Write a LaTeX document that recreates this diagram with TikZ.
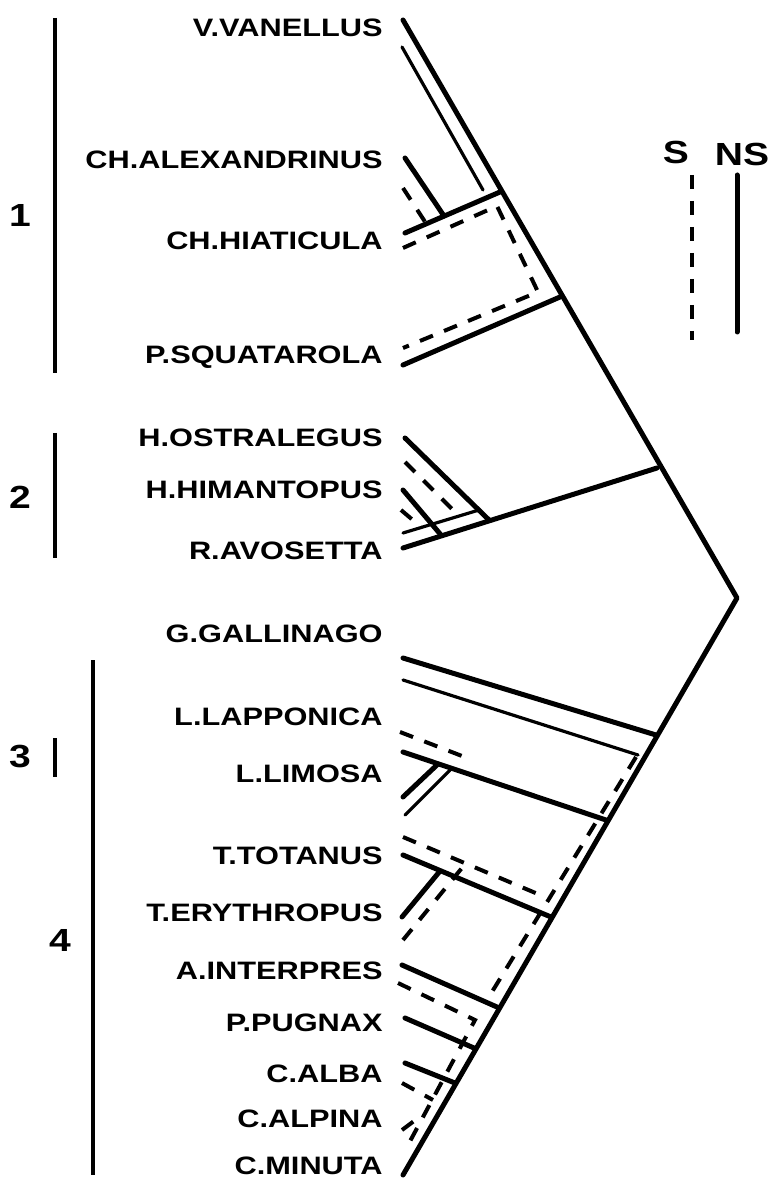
\documentclass[tikz,border=0pt]{standalone}
\usepackage{fontspec}
\setmainfont{Liberation Sans}[FakeStretch=1.22]
\usetikzlibrary{positioning}
\tikzset{
  taxon/.style={anchor=base east, inner sep=0pt, font=\fontsize{12.6}{14}\selectfont\bfseries},
  grpnum/.style={inner sep=0pt, font=\fontsize{16}{18}\selectfont\bfseries},
  nsline/.style={line width=2.5pt, line cap=round, line join=round},
  nsthin/.style={line width=1.6pt, line cap=round},
  sline/.style={line width=2pt, dash pattern=on 7pt off 6pt},
  grpbar/.style={line width=1.8pt}
}

\begin{document}
\begin{tikzpicture}[x=0.5pt,y=-0.5pt]
\useasboundingbox (0,0) rectangle (775,1186);

\node[taxon] (van) at (383,37) {V.VANELLUS};
\node[taxon] (alex) at (383,169) {CH.ALEXANDRINUS};
\node[taxon] (hia) at (383,250) {CH.HIATICULA};
\node[taxon] (squ) at (383,364) {P.SQUATAROLA};
\node[taxon] (ost) at (383,447) {H.OSTRALEGUS};
\node[taxon] (him) at (383,498) {H.HIMANTOPUS};
\node[taxon] (avo) at (383,559) {R.AVOSETTA};
\node[taxon] (gal) at (383,642) {G.GALLINAGO};
\node[taxon] (lap) at (383,725) {L.LAPPONICA};
\node[taxon] (lim) at (383,782) {L.LIMOSA};
\node[taxon] (tot) at (383,864) {T.TOTANUS};
\node[taxon] (ery) at (383,921) {T.ERYTHROPUS};
\node[taxon] (int) at (383,979) {A.INTERPRES};
\node[taxon] (pug) at (383,1031) {P.PUGNAX};
\node[taxon] (alb) at (383,1082) {C.ALBA};
\node[taxon] (alp) at (383,1127) {C.ALPINA};
\node[taxon] (min) at (383,1174) {C.MINUTA};

\node[grpnum] (g1) at (20,215) {1};
\node[grpnum] (g2) at (20,497) {2};
\node[grpnum] (g3) at (20,757) {3};
\node[grpnum] (g4) at (60,940) {4};
\coordinate (b1a) at (55,18);  \coordinate (b1b) at (55,373);
\coordinate (b2a) at (55,433); \coordinate (b2b) at (55,558);
\coordinate (b3a) at (55,738); \coordinate (b3b) at (55,777);
\coordinate (b4a) at (93,660); \coordinate (b4b) at (93,1175);
\draw[grpbar] (b1a) -- (b1b);
\draw[grpbar] (b2a) -- (b2b);
\draw[grpbar] (b3a) -- (b3b);
\draw[grpbar] (b4a) -- (b4b);

\node[grpnum] (keys) at (676,152) {S};
\node[grpnum] (keyns) at (742,154) {NS};
\coordinate (ks1) at (692,175); \coordinate (ks2) at (692,340);
\coordinate (kn1) at (737,175); \coordinate (kn2) at (737,332);
\draw[sline] (ks1) -- (ks2);
\draw[nsline] (kn1) -- (kn2);

\coordinate (top) at (403,20);
\coordinate (apex) at (737,598);
\coordinate (bot) at (403,1175);
\draw[nsline] (top) -- (apex) -- (bot);

\coordinate (j1) at (500,192);
\coordinate (j2) at (560,297);
\coordinate (j3) at (657,468);
\coordinate (j4) at (656,735);
\coordinate (j5) at (606,820);
\coordinate (j6) at (551,917);
\coordinate (j7) at (497,1007);
\coordinate (j8) at (474,1048);
\coordinate (j9) at (455,1083);

\coordinate (vt1) at (402,47);  \coordinate (vt2) at (483,190);
\draw[nsthin] (vt1) -- (vt2);
\coordinate (a1) at (405,158);  \coordinate (a2) at (444,216);
\draw[nsline] (a1) -- (a2);
\coordinate (h1) at (405,233);
\draw[nsline] (h1) -- (j1);
\coordinate (as1) at (403,188); \coordinate (as2) at (431,231);
\draw[sline] (as1) -- (as2);
\coordinate (hs1) at (403,248); \coordinate (hs2) at (497,206);
\coordinate (hs3) at (538,292); \coordinate (ss1) at (403,348);
\draw[sline] (hs1) -- (hs2) -- (hs3) -- (ss1);
\coordinate (s1) at (403,365);
\draw[nsline] (s1) -- (j2);

\coordinate (o1) at (405,438);  \coordinate (o2) at (489,520);
\draw[nsline] (o1) -- (o2);
\coordinate (r1) at (403,548);
\draw[nsline] (r1) -- (j3);
\coordinate (rt1) at (403,533); \coordinate (rt2) at (479,510);
\draw[nsthin] (rt1) -- (rt2);
\coordinate (hm1) at (403,490); \coordinate (hm2) at (441,535);
\draw[nsline] (hm1) -- (hm2);
\coordinate (os1) at (405,462); \coordinate (os2) at (458,515);
\draw[sline] (os1) -- (os2);
\coordinate (hms1) at (401,510); \coordinate (hms2) at (421,527);
\draw[sline] (hms1) -- (hms2);

\coordinate (gl1) at (403,658);
\draw[nsline] (gl1) -- (j4);
\coordinate (gt1) at (403,680); \coordinate (gt2) at (638,755);
\draw[nsthin] (gt1) -- (gt2);
\coordinate (ds1) at (636,757); \coordinate (ds2) at (487,1000);
\draw[sline] (ds1) -- (ds2);
\coordinate (ls1) at (400,732); \coordinate (ls2) at (462,756);
\draw[sline] (ls1) -- (ls2);
\coordinate (l1) at (403,752);
\draw[nsline] (l1) -- (j5);
\coordinate (m1) at (403,797); \coordinate (m2) at (438,764);
\draw[nsline] (m1) -- (m2);
\coordinate (mt1) at (405,815); \coordinate (mt2) at (450,770);
\draw[nsthin] (mt1) -- (mt2);
\coordinate (ts1) at (403,837); \coordinate (ts2) at (545,897);
\draw[sline] (ts1) -- (ts2);
\coordinate (t1) at (403,855);
\draw[nsline] (t1) -- (j6);
\coordinate (e1) at (402,917); \coordinate (e2) at (440,871);
\draw[nsline] (e1) -- (e2);
\coordinate (es1) at (403,940); \coordinate (es2) at (466,863);
\draw[sline] (es1) -- (es2);
\coordinate (i1) at (402,965);
\draw[nsline] (i1) -- (j7);
\coordinate (is1) at (398,983); \coordinate (is2) at (475,1020);
\coordinate (is3) at (408,1145);
\draw[sline] (is1) -- (is2) -- (is3);
\coordinate (p1) at (405,1018);
\draw[nsline] (p1) -- (j8);
\coordinate (c1) at (405,1063);
\draw[nsline] (c1) -- (j9);
\coordinate (cs1) at (402,1083); \coordinate (cs2) at (433,1100);
\draw[sline] (cs1) -- (cs2);
\coordinate (cp1) at (402,1130); \coordinate (cp2) at (422,1115);
\draw[sline] (cp1) -- (cp2);
\end{tikzpicture}
\end{document}
